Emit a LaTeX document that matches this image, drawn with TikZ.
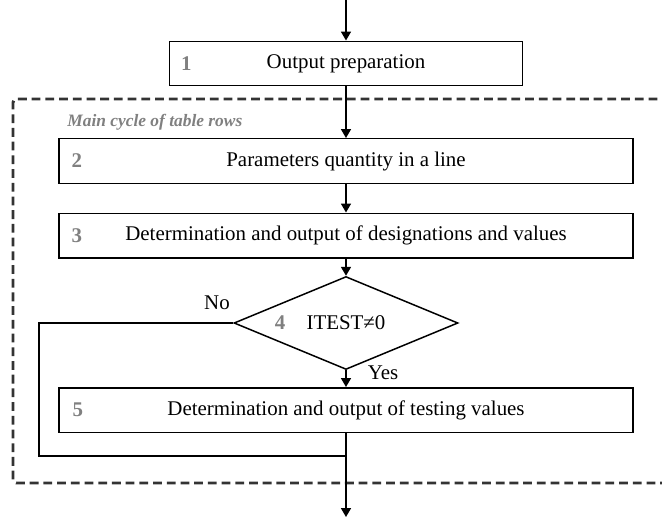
\documentclass[tikz,border=0pt]{standalone}
\usepackage{fontspec}
\setmainfont{Liberation Serif}
\usepackage{tikz}
\usetikzlibrary{arrows.meta, positioning, shapes.geometric}
\definecolor{c1}{HTML}{808080}
\definecolor{c2}{HTML}{333333}

\begin{document}
\begin{tikzpicture}[
  font=\fontsize{11.9}{14}\selectfont, x=1cm, y=1cm,
  box/.style={draw=black, fill=white, line width=0.85pt, inner sep=0pt,
              minimum height=8.9mm, minimum width=114.8mm},
  dec/.style={draw=black, fill=white, line width=0.85pt, diamond, inner sep=0pt,
              minimum width=44.8mm, minimum height=18mm},
  num/.style={font=\fontsize{11.9}{14}\selectfont\bfseries, text=c1, inner sep=0pt},
  fl/.style={-{Triangle[length=5pt,width=5.6pt]}, draw=black, line width=0.85pt},
  ln/.style={draw=black, line width=0.85pt},
  lb/.style={inner sep=1pt},
  grp/.style={draw=c2, line width=1.7pt, dash pattern=on 5pt off 2.8pt, rounded corners=2pt},
  ttl/.style={font=\fontsize{9.9}{12}\selectfont\bfseries\itshape, text=c1, inner sep=0pt},
]
\useasboundingbox (-6.92,0) rectangle (6.32,-10.36);

% cycle frame, open to the right
\draw[grp] (6.5,-1.98) -- (-6.66,-1.98) -- (-6.66,-9.66) -- (6.5,-9.66);
\node[ttl, anchor=west] (ttl) at (-5.58,-2.44) {Main cycle of table rows};

\node[box, minimum width=70.6mm] (b1) at (0,-1.27) {Output preparation};
\node[box] (b2) at (0,-3.22) {Parameters quantity in a line};
\node[box] (b3) at (0,-4.71) {Determination and output of designations and values};
\node[dec] (d4) at (0,-6.46) {ITEST≠0};
\node[box] (b5) at (0,-8.20) {Determination and output of testing values};

\node[num, right=2.4mm of b1.west] (n1) {1};
\node[num, right=2.6mm of b2.west] (n2) {2};
\node[num, right=2.6mm of b3.west] (n3) {3};
\node[num] (n4) at (-1.32,-6.46) {4};
\node[num, right=2.8mm of b5.west] (n5) {5};

\coordinate (in)  at (0,0);
\coordinate (out) at (0,-10.34);
\coordinate (lp)  at (-6.14,-9.12);
\coordinate (jn)  at (0,-9.12);

\draw[fl] (in) -- (b1);
\draw[fl] (b1) -- (b2);
\draw[fl] (b2) -- (b3);
\draw[fl] (b3) -- (d4);
\draw[fl] (d4) -- (b5);
\draw[fl] (b5) -- (out);

\draw[ln] (d4.west) -| (lp) -- (jn);
\node[lb] (no)  at (-2.58,-6.06) {No};
\node[lb] (yes) at (0.74,-7.46) {Yes};
\end{tikzpicture}
\end{document}
